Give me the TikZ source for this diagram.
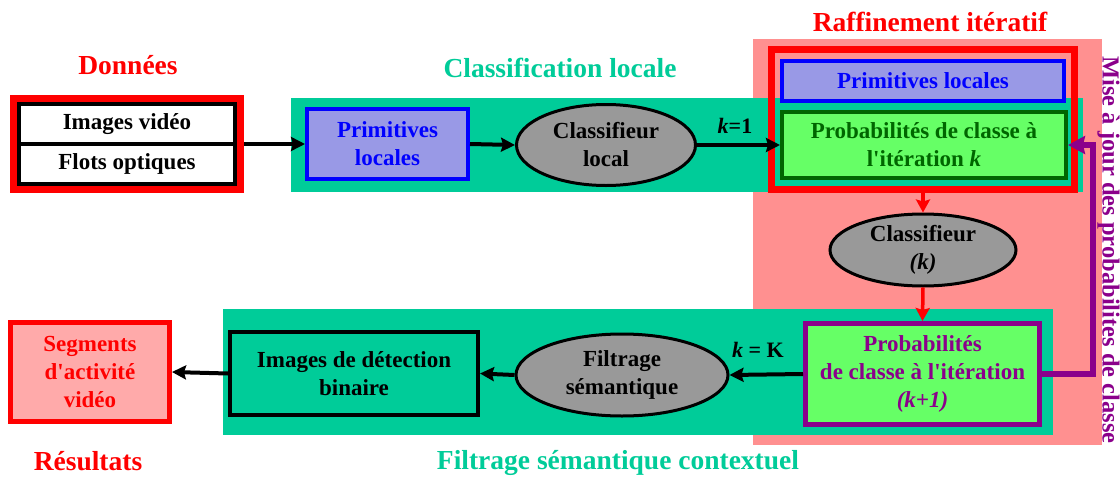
\documentclass[tikz,border=0pt]{standalone}
\usepackage{fontspec}
\setmainfont{Liberation Serif}
\usetikzlibrary{shapes.geometric,arrows.meta,fit}
\definecolor{cgreen}{HTML}{00CC99}
\definecolor{lgreen}{HTML}{66FF66}
\definecolor{dgreen}{HTML}{006600}
\definecolor{pinkbg}{HTML}{FF9090}
\definecolor{segfill}{HTML}{FFAAAA}
\definecolor{bluefill}{HTML}{9999E6}
\definecolor{purp}{HTML}{8B008B}
\definecolor{grayfill}{HTML}{999999}
\newcommand\sq{\textquotesingle}
\begin{document}
\begin{tikzpicture}[x=1pt,y=-1pt,
  every node/.style={font=\bfseries\fontsize{23}{28}\selectfont, align=center, inner sep=0pt},
  titletext/.style={font=\bfseries\fontsize{27.5}{32}\selectfont},
  boxnode/.style={draw, rectangle, line width=4pt, inner sep=0pt},
  ellnode/.style={ellipse, draw, line width=3pt, fill=grayfill, inner sep=0pt},
  blackarr/.style={line width=4pt, -{Stealth[length=14pt,width=14pt,inset=2pt]}},
  redarr/.style={red, line width=3.5pt, -{Stealth[length=13pt,width=14pt,inset=2pt]}},
  purparr/.style={purp, line width=6pt, -{Stealth[length=17pt,width=18pt,inset=2pt]}},
  klabel/.style={font=\bfseries\fontsize{22}{26}\selectfont}
]
\useasboundingbox (0,0) rectangle (1120,477);
\fill[white] (0,0) rectangle (1120,477);

% background regions
\fill[pinkbg] (753,39) rectangle (1102,445);
\fill[cgreen] (291,98) rectangle (1083,192);
\fill[cgreen] (223,309) rectangle (1053,435);

% titles
\node[titletext, red] (tdon) at (128,65) {Données};
\node[titletext, cgreen] (tcls) at (560,68) {Classification locale};
\node[titletext, red] (traf) at (930,22) {Raffinement itératif};
\node[titletext, red] (tres) at (88,461) {Résultats};
\node[titletext, cgreen] (tfil) at (618,463) {Filtrage sémantique contextuel};
\node[purp, rotate=-90, font=\bfseries\fontsize{24.5}{30}\selectfont] (tmaj) at (1108.5,250) {Mise à jour des probabilites de classe};

% data block
\node[boxnode, fill=white, minimum width=216pt, minimum height=40pt] (imgv) at (127,124) {Images vidéo};
\node[boxnode, fill=white, minimum width=216pt, minimum height=40pt] (flots) at (127,164) {Flots optiques};
\node[draw=red, line width=7pt, inner sep=3.5pt, fit=(imgv)(flots)] (data) {};

% local classification
\node[boxnode, draw=blue, fill=bluefill, text=blue, minimum width=161pt, minimum height=70pt] (prim1) at (387.5,144) {Primitives\\locales};
\node[ellnode, minimum width=179pt, minimum height=81pt] (clsloc) at (606,145) {Classifieur\\local};

% iterative refinement
\node[boxnode, draw=blue, fill=bluefill, text=blue, minimum width=282pt, minimum height=40pt] (prim2) at (923,81) {Primitives locales};
\node[boxnode, draw=dgreen, fill=lgreen, text=dgreen, minimum width=284pt, minimum height=66pt] (probk) at (924,145) {Probabilités de classe à\\l\sq itération \textit{k}};
\node[draw=red, line width=7pt, minimum width=303pt, minimum height=140pt] (rbox) at (923,119.5) {};
\node[ellnode, minimum width=186pt, minimum height=72pt] (clsk) at (923,250) {Classifieur\\\textit{(k)}};
\node[boxnode, line width=5pt, draw=purp, fill=lgreen, text=purp, minimum width=234pt, minimum height=101pt] (probk1) at (922.5,374) {Probabilités\\de classe à l\sq itération\\\textit{(k+1)}};

% semantic filtering
\node[ellnode, minimum width=212pt, minimum height=82pt] (filt) at (622,375) {Filtrage\\sémantique};
\node[boxnode, fill=cgreen, minimum width=248pt, minimum height=83pt] (imgbin) at (354,373.5) {Images de détection\\binaire};
\node[boxnode, line width=5pt, draw=red, fill=segfill, text=red, minimum width=159pt, minimum height=99pt] (seg) at (90,372) {Segments\\d\sq activité\\vidéo};

% labels
\node[klabel] (k1) at (735,126) {\textit{k}=1};
\node[klabel] (kK) at (758,350) {\textit{k} = K};

% connectors
\draw[blackarr] (data.east |- prim1.west) -- (prim1.west);
\draw[blackarr] (prim1.east) -- (clsloc.west);
\draw[blackarr] (clsloc.east) -- (probk.west);
\draw[redarr] (rbox.south) -- (clsk.north);
\draw[redarr] (clsk.south) -- (probk1.north);
\coordinate (pc) at (1093,0);
\draw[purparr] (probk1.east) -- (probk1.east -| pc) -- (pc |- probk.east) -- (probk.east);
\draw[blackarr] (probk1.west) -- (filt.east);
\draw[blackarr] (filt.west) -- (imgbin.east);
\draw[blackarr] (imgbin.west) -- (seg.east);
\end{tikzpicture}
\end{document}
